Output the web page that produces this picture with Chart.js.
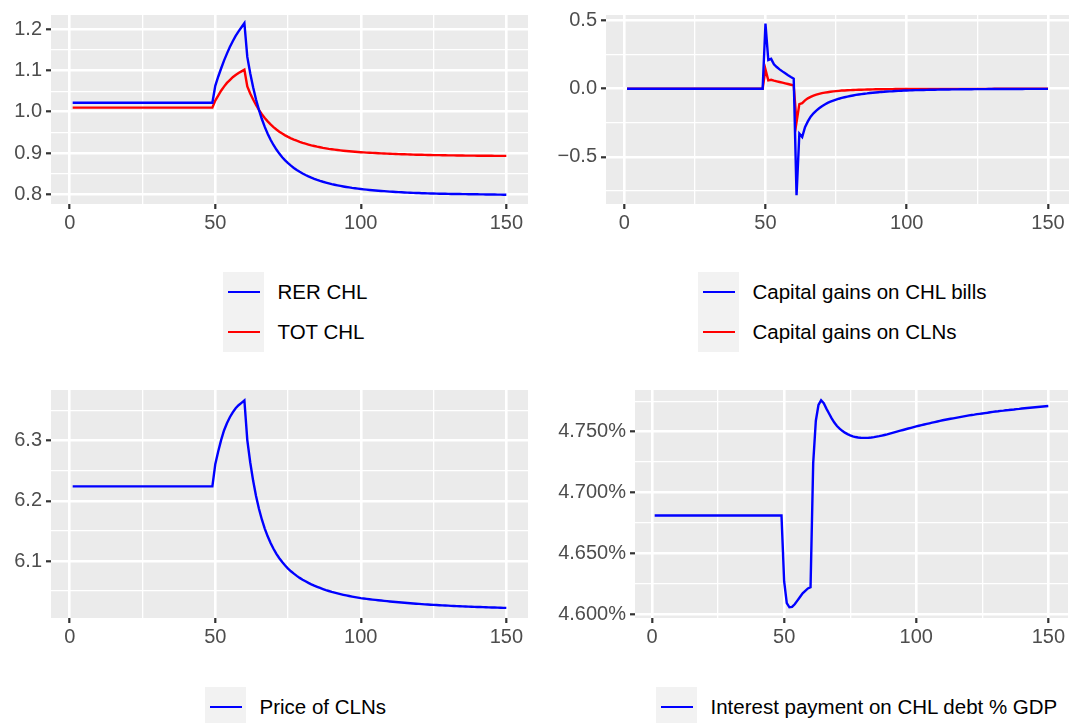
<!DOCTYPE html>
<html>
<head>
<meta charset="utf-8">
<script src="https://cdn.jsdelivr.net/npm/chart.js@4"></script>
<style>
html,body{margin:0;padding:0;background:#fff;}
body{width:1069px;height:723px;position:relative;overflow:hidden;font-family:"Liberation Sans",Arial,Helvetica,sans-serif;}
canvas{position:absolute;}
.key{position:absolute;background:#F2F2F2;width:41px;}
.kline{position:absolute;left:5px;width:32px;height:2.3px;}
.ltxt{position:absolute;font-size:20.5px;color:#000;white-space:nowrap;line-height:24px;}
</style>
</head>
<body>
<canvas id="c1" width="534" height="240" style="left:0;top:0"></canvas>
<canvas id="c2" width="529" height="240" style="left:540px;top:0"></canvas>
<canvas id="c3" width="534" height="279" style="left:0;top:375px"></canvas>
<canvas id="c4" width="529" height="279" style="left:540px;top:375px"></canvas>
<script>
// ---------------- DATA ----------------
const periods = [
1,2,3,4,5,6,7,8,9,10,11,12,13,14,15,16,17,18,19,20,
21,22,23,24,25,26,27,28,29,30,31,32,33,34,35,36,37,38,39,40,
41,42,43,44,45,46,47,48,49,50,51,52,53,54,55,56,57,58,59,60,
61,62,63,64,65,66,67,68,69,70,71,72,73,74,75,76,77,78,79,80,
81,82,83,84,85,86,87,88,89,90,91,92,93,94,95,96,97,98,99,100,
101,102,103,104,105,106,107,108,109,110,111,112,113,114,115,116,117,118,119,120,
121,122,123,124,125,126,127,128,129,130,131,132,133,134,135,136,137,138,139,140,
141,142,143,144,145,146,147,148,149,150];

const rerCHL = [
1.022,1.022,1.022,1.022,1.022,1.022,1.022,1.022,1.022,1.022,
1.022,1.022,1.022,1.022,1.022,1.022,1.022,1.022,1.022,1.022,
1.022,1.022,1.022,1.022,1.022,1.022,1.022,1.022,1.022,1.022,
1.022,1.022,1.022,1.022,1.022,1.022,1.022,1.022,1.022,1.022,
1.022,1.022,1.022,1.022,1.022,1.022,1.022,1.022,1.022,1.063,
1.085,1.105,1.124,1.141,1.157,1.171,1.184,1.195,1.205,1.215,
1.133,1.0934,1.0593,1.0299,1.0045,0.9825,0.9634,0.9468,0.9322,0.9195,
0.9084,0.8986,0.8899,0.8823,0.8755,0.8694,0.8639,0.8589,0.8545,0.8505,
0.8468,0.8435,0.8404,0.8376,0.8350,0.8326,0.8304,0.8284,0.8265,0.8247,
0.8231,0.8216,0.8202,0.8189,0.8177,0.8166,0.8155,0.8146,0.8137,0.8128,
0.8120,0.8112,0.8105,0.8098,0.8092,0.8086,0.8080,0.8075,0.8070,0.8065,
0.8060,0.8056,0.8052,0.8048,0.8044,0.8041,0.8038,0.8035,0.8032,0.8029,
0.8026,0.8024,0.8022,0.8020,0.8018,0.8016,0.8014,0.8012,0.8011,0.8010,
0.8008,0.8007,0.8006,0.8005,0.8004,0.8003,0.8002,0.8001,0.8000,0.7999,
0.7998,0.7997,0.7996,0.7995,0.7994,0.7993,0.7992,0.7991,0.7990,0.7989];

const totCHL = [
1.010,1.010,1.010,1.010,1.010,1.010,1.010,1.010,1.010,1.010,
1.010,1.010,1.010,1.010,1.010,1.010,1.010,1.010,1.010,1.010,
1.010,1.010,1.010,1.010,1.010,1.010,1.010,1.010,1.010,1.010,
1.010,1.010,1.010,1.010,1.010,1.010,1.010,1.010,1.010,1.010,
1.010,1.010,1.010,1.010,1.010,1.010,1.010,1.010,1.010,1.027,
1.039,1.051,1.061,1.070,1.077,1.084,1.089,1.094,1.098,1.102,
1.0616,1.0446,1.0296,1.0164,1.0046,0.9942,0.9850,0.9768,0.9694,0.9629,
0.9570,0.9518,0.9471,0.9429,0.9391,0.9357,0.9326,0.9298,0.9272,0.9248,
0.9226,0.9206,0.9187,0.9170,0.9154,0.9140,0.9126,0.9114,0.9102,0.9092,
0.9082,0.9073,0.9064,0.9056,0.9049,0.9042,0.9036,0.9030,0.9025,0.9020,
0.9015,0.9011,0.9007,0.9003,0.8999,0.8995,0.8992,0.8988,0.8985,0.8982,
0.8979,0.8976,0.8974,0.8971,0.8969,0.8967,0.8964,0.8962,0.8960,0.8958,
0.8957,0.8955,0.8953,0.8952,0.8950,0.8949,0.8948,0.8946,0.8945,0.8944,
0.8943,0.8942,0.8941,0.8940,0.8939,0.8938,0.8937,0.8937,0.8936,0.8935,
0.8935,0.8934,0.8934,0.8933,0.8933,0.8932,0.8932,0.8932,0.8931,0.8931];

const gainsBills = [
0,0,0,0,0,0,0,0,0,0,
0,0,0,0,0,0,0,0,0,0,
0,0,0,0,0,0,0,0,0,0,
0,0,0,0,0,0,0,0,0,0,
0,0,0,0,0,0,0,0,0,0.480,
0.212,0.220,0.180,0.160,0.143,0.128,0.114,0.100,0.087,0.075,
-0.783,-0.330,-0.355,-0.283,-0.240,-0.205,-0.180,-0.160,-0.143,-0.128,
-0.115,-0.104,-0.095,-0.087,-0.080,-0.073,-0.067,-0.062,-0.057,-0.053,
-0.049,-0.045,-0.042,-0.039,-0.036,-0.034,-0.031,-0.029,-0.027,-0.025,
-0.023,-0.022,-0.020,-0.019,-0.018,-0.016,-0.015,-0.014,-0.013,-0.012,
-0.0113,-0.0106,-0.0100,-0.0094,-0.0088,-0.0083,-0.0078,-0.0073,-0.0069,-0.0065,
-0.0061,-0.0057,-0.0054,-0.0051,-0.0048,-0.0045,-0.0042,-0.0040,-0.0037,-0.0035,
-0.0033,-0.0031,-0.0029,-0.0027,-0.0026,-0.0024,-0.0023,-0.0021,-0.0020,-0.0019,
-0.0018,-0.0017,-0.0016,-0.0015,-0.0014,-0.0013,-0.0012,-0.0012,-0.0011,-0.0010,
-0.0010,-0.0009,-0.0009,-0.0008,-0.0008,-0.0007,-0.0007,-0.0006,-0.0006,-0.0005];

const gainsCLN = [
0,0,0,0,0,0,0,0,0,0,
0,0,0,0,0,0,0,0,0,0,
0,0,0,0,0,0,0,0,0,0,
0,0,0,0,0,0,0,0,0,0,
0,0,0,0,0,0,0,0,0,0.143,
0.062,0.066,0.060,0.055,0.050,0.045,0.040,0.035,0.030,0.025,
-0.245,-0.112,-0.105,-0.085,-0.070,-0.059,-0.050,-0.043,-0.037,-0.032,
-0.028,-0.025,-0.022,-0.019,-0.017,-0.015,-0.013,-0.012,-0.011,-0.010,
-0.009,-0.008,-0.0072,-0.0065,-0.0058,-0.0052,-0.0047,-0.0042,-0.0038,-0.0034,
-0.0031,-0.0028,-0.0025,-0.0023,-0.0021,-0.0019,-0.0017,-0.0015,-0.0014,-0.0013,
-0.0012,-0.0011,-0.0010,-0.0009,-0.0008,-0.0008,-0.0007,-0.0007,-0.0006,-0.0006,
-0.0005,-0.0005,-0.0005,-0.0004,-0.0004,-0.0004,-0.0003,-0.0003,-0.0003,-0.0003,
-0.0002,-0.0002,-0.0002,-0.0002,-0.0002,-0.0002,-0.0002,-0.0002,-0.0002,-0.0002,
-0.0001,-0.0001,-0.0001,-0.0001,-0.0001,-0.0001,-0.0001,-0.0001,-0.0001,-0.0001,
-0.0001,-0.0001,-0.0001,-0.0001,-0.0001,0,0,0,0,0];

const priceCLN = [
6.224,6.224,6.224,6.224,6.224,6.224,6.224,6.224,6.224,6.224,
6.224,6.224,6.224,6.224,6.224,6.224,6.224,6.224,6.224,6.224,
6.224,6.224,6.224,6.224,6.224,6.224,6.224,6.224,6.224,6.224,
6.224,6.224,6.224,6.224,6.224,6.224,6.224,6.224,6.224,6.224,
6.224,6.224,6.224,6.224,6.224,6.224,6.224,6.224,6.224,6.261,
6.282,6.301,6.317,6.329,6.339,6.347,6.354,6.359,6.363,6.367,
6.301,6.2642,6.2337,6.2082,6.1869,6.1690,6.1539,6.1410,6.1299,6.1203,
6.1119,6.1046,6.0982,6.0925,6.0874,6.0829,6.0789,6.0752,6.0719,6.0689,
6.0662,6.0636,6.0612,6.0590,6.0570,6.0551,6.0533,6.0516,6.0501,6.0486,
6.0473,6.0460,6.0448,6.0437,6.0427,6.0417,6.0408,6.0399,6.0391,6.0383,
6.0377,6.0370,6.0364,6.0358,6.0353,6.0347,6.0342,6.0337,6.0332,6.0327,
6.0322,6.0317,6.0313,6.0309,6.0305,6.0301,6.0297,6.0293,6.0289,6.0286,
6.0283,6.0279,6.0276,6.0273,6.0270,6.0267,6.0264,6.0262,6.0259,6.0257,
6.0254,6.0252,6.0249,6.0247,6.0245,6.0243,6.0241,6.0239,6.0237,6.0235,
6.0234,6.0232,6.0230,6.0229,6.0227,6.0226,6.0224,6.0223,6.0221,6.0220];

const interestGDP = [
4.681,4.681,4.681,4.681,4.681,4.681,4.681,4.681,4.681,4.681,
4.681,4.681,4.681,4.681,4.681,4.681,4.681,4.681,4.681,4.681,
4.681,4.681,4.681,4.681,4.681,4.681,4.681,4.681,4.681,4.681,
4.681,4.681,4.681,4.681,4.681,4.681,4.681,4.681,4.681,4.681,
4.681,4.681,4.681,4.681,4.681,4.681,4.681,4.681,4.681,4.627,
4.609,4.6055,4.6058,4.608,4.611,4.614,4.617,4.619,4.621,4.622,
4.724,4.759,4.772,4.7758,4.7735,4.769,4.765,4.761,4.7575,4.7547,
4.7525,4.7507,4.7492,4.748,4.747,4.7462,4.7456,4.7452,4.745,4.7449,
4.7449,4.745,4.7452,4.7455,4.7459,4.7463,4.7468,4.7473,4.7478,4.7484,
4.749,4.7496,4.7502,4.7508,4.7514,4.752,4.7526,4.7532,4.7538,4.7544,
4.7549,4.7554,4.7559,4.7564,4.7569,4.7574,4.7579,4.7584,4.7589,4.7594,
4.7598,4.7602,4.7606,4.7610,4.7614,4.7618,4.7622,4.7626,4.7630,4.7634,
4.7637,4.7640,4.7644,4.7647,4.7650,4.7653,4.7656,4.7660,4.7663,4.7666,
4.7668,4.7671,4.7673,4.7676,4.7678,4.7681,4.7683,4.7686,4.7688,4.7691,
4.7693,4.7695,4.7697,4.7699,4.7701,4.7703,4.7705,4.7707,4.7709,4.7711];

const panel1Names = ["RER CHL", "TOT CHL"];
const panel2Names = ["Capital gains on CHL bills", "Capital gains on CLNs"];
const panel3Names = ["Price of CLNs"];
const panel4Names = ["Interest payment on CHL debt % GDP"];

// tick values
const xMajorTicks = [0, 50, 100, 150];
const xMinorTicks = [25, 75, 125];
const p1YMajor = [0.8, 0.9, 1.0, 1.1, 1.2];
const p1YMinor = [0.85, 0.95, 1.05, 1.15];
const p2YMajor = [-0.5, 0.0, 0.5];
const p2YMinor = [-0.75, -0.25, 0.25];
const p3YMajor = [6.1, 6.2, 6.3];
const p3YMinor = [6.05, 6.15, 6.25, 6.35];
const p4YMajor = [4.60, 4.65, 4.70, 4.75];
const p4YMinor = [4.625, 4.675, 4.725, 4.775];

// ---------------- STYLE / LAYOUT ----------------
const FONT = "'Liberation Sans', Arial, Helvetica, sans-serif";
const BLUE = '#0000FF', RED = '#FF0000';
Chart.defaults.font.family = FONT;

const panelBg = {
  id: 'panelBg',
  beforeDraw(chart) {
    const {ctx, chartArea: a} = chart;
    ctx.save();
    ctx.fillStyle = '#EBEBEB';
    ctx.fillRect(a.left, a.top, a.right - a.left, a.bottom - a.top);
    ctx.restore();
  }
};

function tickList(major, minor) {
  return major.map(v => ({value: v, isMinor: false}))
    .concat(minor.map(v => ({value: v, isMinor: true})))
    .sort((a, b) => a.value - b.value);
}
function gridOpts() {
  return {
    color: '#FFFFFF',
    lineWidth: c => (c.tick && c.tick.isMinor) ? 1.3 : 2.6,
    drawTicks: true,
    tickLength: 5,
    tickColor: c => (c.tick && c.tick.isMinor) ? 'rgba(0,0,0,0)' : '#333333',
    tickWidth: 2.2
  };
}

function makeChart(id, series, names, colors, yMin, yMax, yMajor, yMinor, yFmt, yWidth, rightPad) {
  const datasets = series.map((s, k) => ({
    label: names[k],
    data: periods.map((t, i) => ({x: t, y: s[i]})),
    borderColor: colors[k],
    backgroundColor: colors[k],
    borderWidth: 2.4,
    pointRadius: 0,
    tension: 0,
    fill: false
  }));
  return new Chart(document.getElementById(id), {
    type: 'line',
    data: {datasets},
    plugins: [panelBg],
    options: {
      responsive: false,
      animation: false,
      layout: {padding: {top: 15, right: rightPad, left: 0, bottom: 0}},
      plugins: {legend: {display: false}, tooltip: {enabled: false}},
      scales: {
        x: {
          type: 'linear', min: -6.45, max: 157.45,
          afterBuildTicks: s => { s.ticks = tickList(xMajorTicks, xMinorTicks); },
          afterFit: s => { s.height = 36; },
          grid: gridOpts(),
          border: {display: false},
          ticks: {
            autoSkip: false, maxRotation: 0, padding: 4, color: '#4D4D4D',
            font: {size: 20, lineHeight: 1},
            callback: (v, i, t) => t[i].isMinor ? '' : String(v)
          }
        },
        y: {
          type: 'linear', min: yMin, max: yMax,
          afterBuildTicks: s => { s.ticks = tickList(yMajor, yMinor); },
          afterFit: s => { s.width = yWidth; },
          grid: gridOpts(),
          border: {display: false},
          ticks: {
            autoSkip: false, padding: 4, color: '#4D4D4D',
            font: {size: 20, lineHeight: 1},
            callback: (v, i, t) => t[i].isMinor ? '' : yFmt(v)
          }
        }
      }
    }
  });
}

const fmt1 = v => v.toFixed(1).replace('-', '\u2212');
const fmtPct = v => v.toFixed(3) + '%';

makeChart('c1', [rerCHL, totCHL], panel1Names, [BLUE, RED], 0.7764, 1.2347, p1YMajor, p1YMinor, fmt1, 51, 6);
makeChart('c2', [gainsBills, gainsCLN], panel2Names, [BLUE, RED], -0.847, 0.5426, p2YMajor, p2YMinor, fmt1, 66, 0);
makeChart('c3', [priceCLN], panel3Names, [BLUE], 6.0052, 6.3843, p3YMajor, p3YMinor, fmt1, 51, 6);
makeChart('c4', [interestGDP], panel4Names, [BLUE], 4.5967, 4.7843, p4YMajor, p4YMinor, fmtPct, 95, 0);

// ---------------- LEGENDS (html, ggplot style) ----------------
function legend(left, top, names, colors) {
  const box = document.createElement('div');
  box.className = 'key';
  box.style.left = left + 'px';
  box.style.top = top + 'px';
  box.style.height = (names.length * 40) + 'px';
  document.body.appendChild(box);
  names.forEach((n, k) => {
    const ln = document.createElement('div');
    ln.className = 'kline';
    ln.style.top = (20 + 40 * k - 1.15) + 'px';
    ln.style.background = colors[k];
    box.appendChild(ln);
    const tx = document.createElement('div');
    tx.className = 'ltxt';
    tx.textContent = n;
    tx.style.left = (left + 54.5) + 'px';
    tx.style.top = (top + 20 + 40 * k - 12) + 'px';
    document.body.appendChild(tx);
  });
}
legend(223, 272, panel1Names, [BLUE, RED]);
legend(698, 272, panel2Names, [BLUE, RED]);
legend(205, 687, panel3Names, [BLUE]);
legend(656, 687, panel4Names, [BLUE]);
</script>
</body>
</html>
